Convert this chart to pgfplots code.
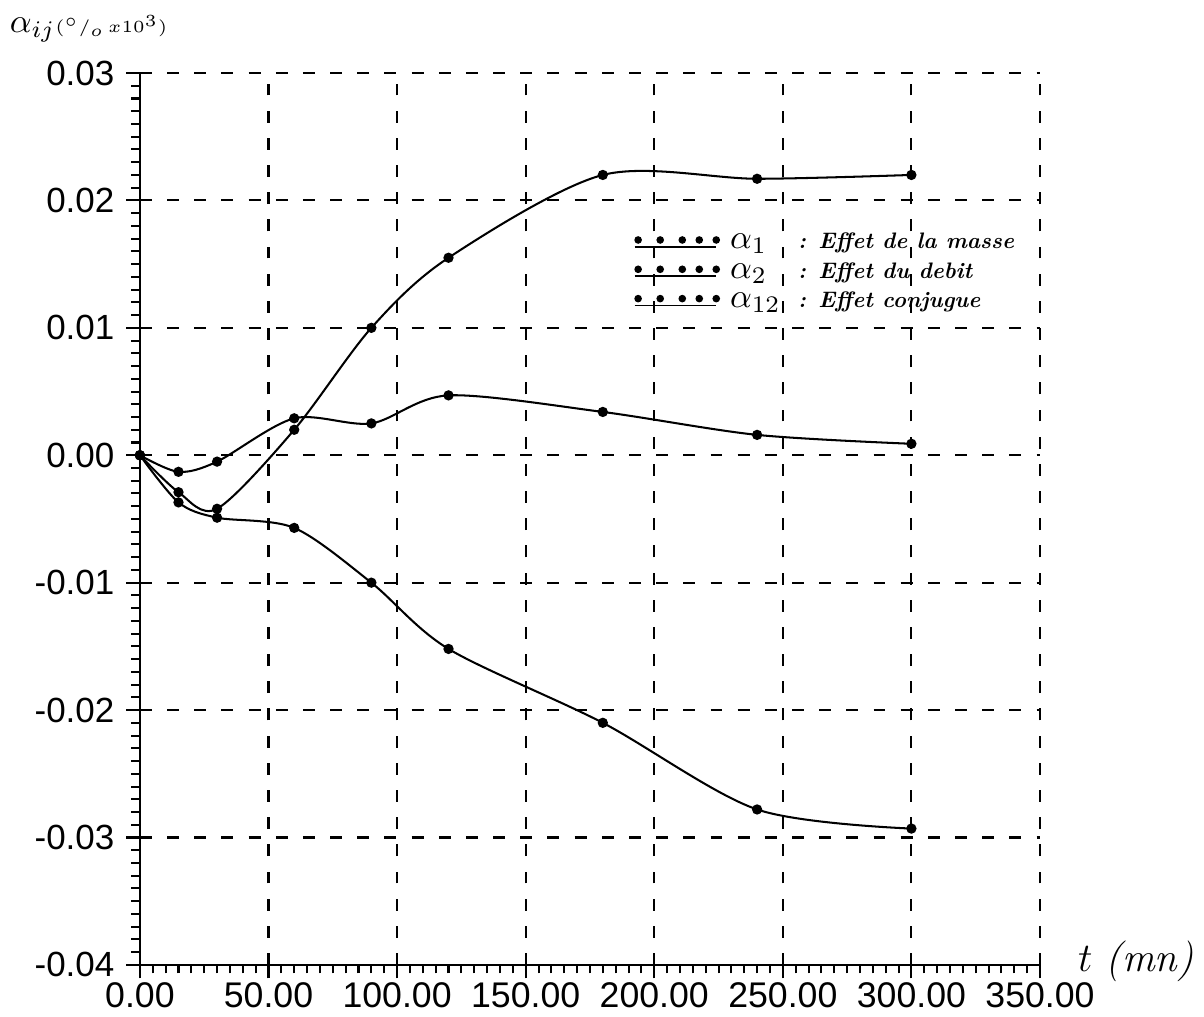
\documentclass[border=0pt]{standalone}
\usepackage{fontspec}
\setsansfont{Liberation Sans}
\usepackage{pgfplots}
\pgfplotsset{compat=1.18}
\begin{document}
\begin{tikzpicture}
\begin{axis}[
  name=ax,
  scale only axis,
  width=265pt, height=262.6pt,
  xmin=0, xmax=350, ymin=-0.04, ymax=0.03,
  axis x line=bottom, axis y line=left,
  axis line style={-, line width=0.8pt},
  xtick={0,50,...,350}, ytick={-0.04,-0.03,...,0.031},
  minor tick num=9,
  tick align=outside,
  major tick length=4pt, minor tick length=2.5pt,
  every tick/.style={black, line width=0.6pt},
  scaled y ticks=false, scaled x ticks=false,
  /pgf/number format/assume math mode=true,
  xticklabel style={font=\sffamily\fontsize{10.5}{11}\selectfont, inner sep=1pt, /pgf/number format/.cd, fixed, fixed zerofill, precision=2},
  yticklabel style={font=\sffamily\fontsize{10.3}{12}\selectfont, /pgf/number format/.cd, fixed, fixed zerofill, precision=2},
  grid=major,
  major grid style={black, line width=0.6pt, dash pattern=on 3.5pt off 4.5pt},
  legend style={draw=none, fill=none, at={(axis cs:190.5,0.0183)}, anchor=north west,
    font=\fontsize{6.6}{8}\selectfont\bfseries\itshape, row sep=-1.5pt, inner sep=1pt,
    nodes={inner xsep=3pt}},
  legend cell align=left,
  legend image code/.code={
    \draw[black, line width=0.5pt] (0pt,-1pt) -- (24pt,-1pt);
    \foreach \xx in {1,7.5,14,19,24} {\fill[black] (\xx pt,1pt) circle (0.8pt);}
  },
]
\addplot[black, line width=0.6pt, smooth, mark=*, mark size=1.2pt] coordinates {
 (0,0) (15,-0.0029) (30,-0.0042) (60,0.0020) (90,0.0100) (120,0.0155) (180,0.0220) (240,0.0217) (300,0.0220)};
\addlegendentry{\makebox[20pt][l]{\normalfont\normalsize$\alpha_{1}$}: Effet de la masse}
\addplot[black, line width=0.6pt, smooth, mark=*, mark size=1.2pt] coordinates {
 (0,0) (15,-0.0013) (30,-0.0005) (60,0.0029) (90,0.0025) (120,0.0047) (180,0.0034) (240,0.0016) (300,0.0009)};
\addlegendentry{\makebox[20pt][l]{\normalfont\normalsize$\alpha_{2}$}: Effet du debit}
\addplot[black, line width=0.6pt, smooth, mark=*, mark size=1.2pt] coordinates {
 (0,0) (15,-0.0037) (30,-0.0049) (60,-0.0057) (90,-0.0100) (120,-0.0152) (180,-0.0210) (240,-0.0278) (300,-0.0293)};
\addlegendentry{\makebox[20pt][l]{\normalfont\normalsize$\alpha_{12}$}: Effet conjugue}
\end{axis}
\node[anchor=west, inner sep=0pt] at ([xshift=-38.5pt, yshift=13pt]ax.north west) {$\alpha_{ij}\scriptscriptstyle(^{\circ}/_{o}\,x10^{3})$};
\node[anchor=west, inner sep=0pt] at ([xshift=11pt, yshift=1pt]ax.south east) {\large$t$ \textit{(mn)}};
\pgfresetboundingbox
\path ([xshift=-41.2pt, yshift=-15.3pt]ax.south west) rectangle ([xshift=48.3pt, yshift=21.5pt]ax.north east);
\end{tikzpicture}
\end{document}
